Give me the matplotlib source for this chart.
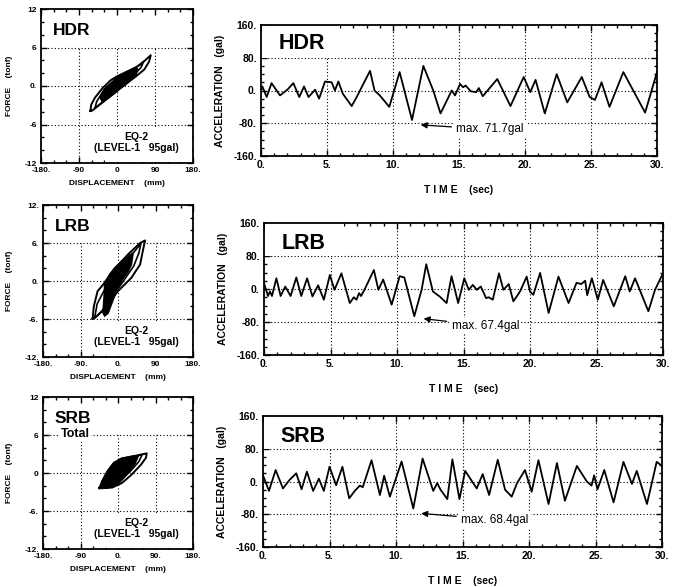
import matplotlib
matplotlib.use('Agg')
import matplotlib.pyplot as plt
from matplotlib.ticker import FixedLocator, MultipleLocator
from matplotlib.patches import Rectangle

plt.rcParams['font.family'] = ['Liberation Sans', 'DejaVu Sans']

# ---------------- data: acceleration time histories ----------------
hdr_t = [0, 0.1, 0.43, 0.8, 1.44, 2.0, 2.45, 2.9, 3.26, 3.6, 4.1, 4.4, 4.85, 5.35, 5.6,
         5.86, 6.2, 6.87, 7.25, 7.5, 8.26, 8.6, 9.0, 9.72, 10.5, 11.44, 12.3, 13.05, 13.6, 14.45,
         14.7, 15.08, 15.3, 15.5, 15.9, 16.3, 16.5, 16.8, 17.9, 18.9, 19.9, 20.4, 20.8, 21.5, 22.4,
         23.2, 24.3, 24.9, 25.3, 25.8, 26.4, 27.45, 28.2, 29.1, 30]
hdr_a = [0, 10, -16, 18, -12, 2, 18, -16, 10, -16, 2, -20, 22, 20, 0,
         22, -8, -38, -16, 0, 48, 0, -12, -40, 45, -72, 60, 0, -56, 0,
         -12, 16, 8, 12, -2, -4, 6, -14, 28, -38, 33, -4, 26, -56, 40,
         -29, 33, -16, -23, 20, -40, 45, 0, -54, 45]

lrb_t = [0, 0.3, 0.45, 0.6, 0.93, 1.25, 1.6, 2.0, 2.43, 2.8, 3.24, 3.64, 4.07, 4.5, 4.95,
         5.3, 5.82, 6.45, 6.75, 6.95, 7.15, 7.3, 7.55, 8.26, 8.6, 8.96, 9.6, 10.2, 10.55, 11.3,
         11.85, 12.2, 12.7, 13.2, 13.73, 14.1, 14.6, 15.06, 15.4, 15.7, 16.0, 16.3, 16.7, 16.9, 17.2,
         17.67, 18.0, 18.4, 18.75, 19.25, 19.75, 20.0, 20.25, 20.76, 21.4, 22.14, 22.9, 23.5, 23.85, 24.15,
         24.3, 24.65, 25.1, 25.5, 26.3, 27.16, 27.5, 27.9, 28.9, 29.4, 30]
lrb_a = [14, -17, -6, -17, 26, -17, 6, -17, 28, -17, 26, -18, 9, -26, 34,
         -2, 38, -34, -20, -26, -10, -17, -2, 46, -2, 23, -38, 31, 28, -66,
         -2, 60, -6, -18, -34, 31, -34, 26, -2, 10, -2, 6, -22, -20, -26,
         38, -2, 12, -30, -6, 30, -6, -14, 39, -58, 30, -34, 15, 12, 20,
         -15, 26, -26, 22, -42, 31, -6, 26, -54, -2, 38]

srb_t = [0, 0.45, 0.95, 1.5, 2.0, 2.5, 2.9, 3.3, 3.77, 4.2, 4.57, 5.0, 5.5, 5.97, 6.48,
         6.9, 7.28, 7.5, 8.16, 8.79, 9.11, 9.54, 10.42, 11.3, 12.0, 12.8, 13.1, 13.35, 13.86, 14.24,
         14.77, 15.2, 16.07, 16.52, 17.0, 17.65, 18.2, 18.7, 19.1, 19.7, 20.2, 20.71, 21.47, 22.1, 22.7,
         23.6, 24.35, 24.7, 24.9, 25.15, 25.66, 26.36, 27.1, 27.74, 28.1, 28.87, 29.6, 30]
srb_a = [15, -23, 28, -17, 4, 20, -19, 24, -23, 7, -23, 36, -9, 36, -41,
         -23, -10, -14, 52, -33, 14, -37, 49, -66, 56, -23, -4, -20, -43, 54,
         -43, 26, -17, 18, -33, 53, -20, -37, -4, 28, -25, 52, -55, 45, -47,
         38, 0, -10, 15, -19, 28, -51, 48, -6, 26, -55, 48, 38]

# ---------------- data: hysteresis loops (displacement mm, force tonf) ----------------
hdr_outer_d = [-63, -61, -52, -35, -15, 0, 25, 45, 65, 80, 76, 65, 45, 20, 0, -25, -45, -58, -63]
hdr_outer_f = [-3.9, -2.9, -1.8, -0.4, 0.9, 1.5, 2.3, 2.9, 3.9, 4.8, 3.8, 2.6, 1.5, 0.3, -0.8, -2.1, -3.1, -3.8, -3.9]
hdr_mid_d = [-52, -48, -30, 0, 30, 55, 63, 57, 30, 0, -25, -45, -52]
hdr_mid_f = [-3.4, -2.4, -0.5, 1.3, 2.4, 3.3, 3.8, 2.9, 1.0, -0.6, -2.0, -3.1, -3.4]
hdr_core_d = [-40, -25, 0, 25, 48, 45, 20, 0, -20, -35, -40]
hdr_core_f = [-1.8, -0.3, 1.3, 2.1, 2.8, 1.6, 0.2, -0.7, -1.8, -2.4, -1.8]

lrb_outer_d = [-61, -58, -49, -36, -16, 24, 53, 65, 61, 53, 32, 0, -32, -53, -61]
lrb_outer_f = [-5.95, -4.0, -1.6, -0.6, 1.3, 4.2, 6.0, 6.4, 5.2, 2.6, 0.5, -1.6, -4.3, -5.7, -5.95]
lrb_mid_d = [-56, -50, -34, -10, 20, 45, 55, 50, 38, 12, -18, -40, -56]
lrb_mid_f = [-5.8, -3.6, -1.6, 0.6, 3.1, 5.1, 5.9, 4.4, 2.4, -0.1, -2.9, -4.9, -5.8]
lrb_core_d = [-36, -33, -32, -20, -8, 8, 24, 36, 32, 24, 8, -4, -16, -24, -32, -36]
lrb_core_f = [-5.0, -2.2, -0.6, 1.0, 2.05, 3.1, 3.9, 4.4, 2.6, 1.5, 0.0, -1.6, -3.7, -5.1, -5.5, -5.0]

srb_outer_d = [-45, -38, -25, -10, 9, 40, 69, 67, 55, 32, 9, -14, -37, -45]
srb_outer_f = [-2.4, -1.3, 0.3, 1.6, 2.3, 2.7, 3.1, 2.4, 1.3, -0.3, -1.6, -2.3, -2.4, -2.4]
srb_mid_d = [-40, -30, -10, 20, 58, 50, 30, 0, -25, -40]
srb_mid_f = [-2.3, -0.6, 1.2, 2.3, 2.9, 1.8, 0.3, -1.6, -2.3, -2.3]
srb_core_d = [-42, -38, -25, -10, 9, 40, 48, 40, 25, 5, -14, -37, -42]
srb_core_f = [-2.4, -1.3, 0.3, 1.6, 2.3, 2.7, 2.6, 1.4, 0.1, -1.4, -2.2, -2.4, -2.4]

# ---------------- labels ----------------
names = ['HDR', 'LRB', 'SRB']
max_labels = ['max. 71.7gal', 'max. 67.4gal', 'max. 68.4gal']
acc_yticks = [-160, -80, 0, 80, 160]
acc_yticklabels = ['-160.', '-80.', '0.', '80.', '160.']
time_xticks = [0, 5, 10, 15, 20, 25, 30]
time_xticklabels = ['0.', '5.', '10.', '15.', '20.', '25.', '30.']
disp_xticks = [-180, -90, 0, 90, 180]
disp_xticklabels = [['-180.', '-90', '0', '90', '180.'],
                    ['-180.', '-90.', '0.', '90', '180.'],
                    ['-180.', '-90', '0.', '90.', '180.']]
force_yticks = [-12, -6, 0, 6, 12]
force_yticklabels = [['-12', '-6', '0.', '6', '12'],
                     ['-12.', '-6.', '0.', '6.', '12.'],
                     ['-12.', '-6.', '0', '6', '12']]

acc_t = [hdr_t, lrb_t, srb_t]
acc_a = [hdr_a, lrb_a, srb_a]
loops = [
    (hdr_outer_d, hdr_outer_f, hdr_mid_d, hdr_mid_f, hdr_core_d, hdr_core_f),
    (lrb_outer_d, lrb_outer_f, lrb_mid_d, lrb_mid_f, lrb_core_d, lrb_core_f),
    (srb_outer_d, srb_outer_f, srb_mid_d, srb_mid_f, srb_core_d, srb_core_f),
]

# ---------------- figure ----------------
W, H = 680, 587
fig = plt.figure(figsize=(W / 100, H / 100), dpi=100)

def box(x0, x1, y0, y1):
    return [x0 / W, 1 - y1 / H, (x1 - x0) / W, (y1 - y0) / H]

left_boxes = [(41, 193, 9, 163), (43, 193, 205, 357), (43, 193, 397, 549)]
right_boxes = [(261, 657, 25, 156), (264, 663, 223, 355), (263, 662, 416, 547)]
arrow_tips = [(12.1, -84), (12.0, -72), (11.9, -78)]
arrow_text = [(14.8, -95), (14.1, -89), (14.9, -93)]
right_lab_y = [116, 110, 111]

DOT = (0, (1, 2.0))
GRID_KW = dict(color='black', lw=0.8, linestyle=DOT, zorder=1)

def frame(ax, labsize):
    for s in ax.spines.values():
        s.set_linewidth(1.3)
    ax.tick_params(which='both', direction='in', top=True, right=True, width=1.0)
    ax.tick_params(which='major', length=4, labelsize=labsize, pad=3)
    ax.tick_params(which='minor', length=2.5)
    for lab in ax.get_xticklabels() + ax.get_yticklabels():
        lab.set_fontweight('bold')

for i in range(3):
    # ---- hysteresis loop panel ----
    ax = fig.add_axes(box(*left_boxes[i]))
    ax.set_xlim(-180, 180)
    ax.set_ylim(-12, 12)
    ax.xaxis.set_major_locator(FixedLocator(disp_xticks))
    ax.xaxis.set_minor_locator(MultipleLocator(30))
    ax.yaxis.set_major_locator(FixedLocator(force_yticks))
    ax.yaxis.set_minor_locator(MultipleLocator(2))
    ax.set_xticklabels(disp_xticklabels[i])
    ax.set_yticklabels(force_yticklabels[i])
    for y in (-6, 0, 6):
        ax.axhline(y, **GRID_KW)
    for x in (-90, 0, 90):
        ax.vlines(x, -12, 6, **GRID_KW)
    ax.add_patch(Rectangle((-28, -11.8), 205, 5.15, facecolor='white', edgecolor='none', zorder=2))
    od, of, md, mf, cd, cf = loops[i]
    ax.fill(cd, cf, color='black', lw=1.2, zorder=3)
    ax.plot(md, mf, color='black', lw=1.2, zorder=3)
    ax.plot(od, of, color='black', lw=1.4, zorder=3)
    ax.text(-152, 8.6, names[i], fontsize=12.5, fontweight='bold', va='center', ha='left', zorder=4)
    if i == 2:
        ax.text(-137, 6.1, 'Total', fontsize=9, fontweight='bold', va='center', ha='left', zorder=4,
                bbox=dict(facecolor='white', edgecolor='none', pad=1))
    ax.text(45, -7.9, 'EQ-2', fontsize=7.5, fontweight='bold', ha='center', va='center', zorder=4)
    ax.text(45, -9.7, '(LEVEL-1   95gal)', fontsize=7.5, fontweight='bold', ha='center', va='center', zorder=4)
    ax.set_xlabel('DISPLACEMENT    (mm)', fontsize=6, fontweight='bold', labelpad=4)
    ax.set_ylabel('FORCE    (tonf)', fontsize=6, fontweight='bold', labelpad=8)
    frame(ax, 6)

    # ---- acceleration time history panel ----
    ax = fig.add_axes(box(*right_boxes[i]))
    ax.set_xlim(0, 30)
    ax.set_ylim(-160, 160)
    ax.xaxis.set_major_locator(FixedLocator(time_xticks))
    ax.xaxis.set_minor_locator(MultipleLocator(1))
    ax.yaxis.set_major_locator(FixedLocator(acc_yticks))
    ax.yaxis.set_minor_locator(MultipleLocator(20))
    ax.set_xticklabels(time_xticklabels)
    ax.set_yticklabels(acc_yticklabels)
    for y in (-80, 0, 80):
        ax.axhline(y, **GRID_KW)
    for x in (5, 10, 15, 20, 25):
        ax.axvline(x, **GRID_KW)
    ax.add_patch(Rectangle((0.1, 79), 5.9, 80, facecolor='white', edgecolor='none', zorder=2))
    ax.plot(acc_t[i], acc_a[i], color='black', lw=1.3, zorder=3, solid_joinstyle='round')
    ax.text(1.3, right_lab_y[i], names[i], fontsize=15.5, fontweight='bold', va='center', ha='left', zorder=4)
    ax.annotate(max_labels[i], xy=arrow_tips[i], xytext=arrow_text[i],
                fontsize=8.5, va='center', ha='left', zorder=4,
                bbox=dict(facecolor='white', edgecolor='none', pad=1.5),
                arrowprops=dict(arrowstyle='-|>', color='black', lw=0.9, mutation_scale=9,
                                shrinkA=2, shrinkB=0))
    ax.set_xlabel('T I M E    (sec)', fontsize=7.5, fontweight='bold', labelpad=11)
    ax.set_ylabel('ACCELERATION   (gal)', fontsize=7.5, fontweight='bold', labelpad=6)
    frame(ax, 7.5)

fig.savefig('out.png', dpi=100)
